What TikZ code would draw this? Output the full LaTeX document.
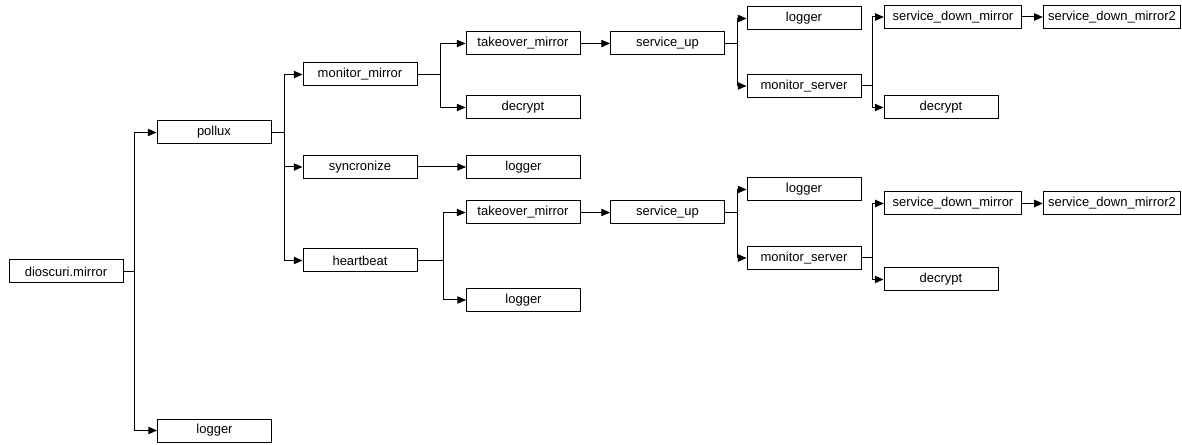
\documentclass[tikz,border=0pt]{standalone}
\usepackage{fontspec}
\setmainfont{Liberation Sans}
\usepackage{tikz}
\usetikzlibrary{arrows.meta}

\tikzset{
  box/.style={draw, line width=0.75pt, minimum width=85.5pt, minimum height=17.25pt, inner sep=0pt, font=\fontsize{9.75}{11}\selectfont},
  widebox/.style={box, minimum width=103pt},
  elbow/.style={to path={-- ++(#1,0) |- (\tikztotarget)}}
}

\begin{document}
\begin{tikzpicture}[x=0.75pt, y=-0.75pt, >={Triangle[length=6.5pt, width=5.5pt]}, line width=0.75pt]
  \useasboundingbox (0,0) rectangle (1182,445);
  \node[box] (dio) at (66,271.5) {dioscuri.mirror};
  \node[box] (pollux) at (214,132.5) {pollux};
  \node[box] (logA) at (214.5,430.5) {logger};
  \node[box] (monMirror) at (360,74.5) {monitor\_mirror};
  \node[box] (sync) at (360,167) {syncronize};
  \node[box] (heart) at (360,260.5) {heartbeat};
  \node[box] (takeA) at (523,43.5) {takeover\_mirror};
  \node[box] (decA) at (523,107.5) {decrypt};
  \node[box] (logB) at (523.5,167) {logger};
  \node[box] (takeB) at (523,212.5) {takeover\_mirror};
  \node[box] (logC) at (523.5,300) {logger};
  \node[box] (upA) at (667.5,43.5) {service\_up};
  \node[box] (upB) at (667.5,212.5) {service\_up};
  \node[box] (logD) at (804,18.5) {logger};
  \node[box] (monServA) at (804,86) {monitor\_server};
  \node[box] (logE) at (804,189.5) {logger};
  \node[box] (monServB) at (804,258) {monitor\_server};
  \node[widebox] (downA) at (953,17) {service\_down\_mirror};
  \node[box] (decB) at (941,107.5) {decrypt};
  \node[widebox] (downB) at (953,203.5) {service\_down\_mirror};
  \node[box] (decC) at (941,279.5) {decrypt};
  \node[widebox] (downTwoA) at (1112,17) {service\_down\_mirror2};
  \node[widebox] (downTwoB) at (1112,203.5) {service\_down\_mirror2};

  \draw[->] (dio.east) to[elbow=11] (pollux.west);
  \draw[->] (dio.east) to[elbow=11] (logA.west);
  \draw[->] (pollux.east) to[elbow=13] (monMirror.west);
  \draw[->] (pollux.east) to[elbow=13] (sync.west);
  \draw[->] (pollux.east) to[elbow=13] (heart.west);
  \draw[->] (monMirror.east) to[elbow=23] (takeA.west);
  \draw[->] (monMirror.east) to[elbow=23] (decA.west);
  \draw[->] (sync.east) -- (logB.west);
  \draw[->] (heart.east) to[elbow=26] (takeB.west);
  \draw[->] (heart.east) to[elbow=26] (logC.west);
  \draw[->] (takeA.east) -- (upA.west);
  \draw[->] (takeB.east) -- (upB.west);
  \draw[->] (upA.east) to[elbow=12] (logD.west);
  \draw[->] (upA.east) to[elbow=12] (monServA.west);
  \draw[->] (upB.east) to[elbow=12] (logE.west);
  \draw[->] (upB.east) to[elbow=12] (monServB.west);
  \draw[->] (monServA.east) to[elbow=11] (downA.west);
  \draw[->] (monServA.east) to[elbow=11] (decB.west);
  \draw[->] (monServB.east) to[elbow=11] (downB.west);
  \draw[->] (monServB.east) to[elbow=11] (decC.west);
  \draw[->] (downA.east) -- (downTwoA.west);
  \draw[->] (downB.east) -- (downTwoB.west);
\end{tikzpicture}
\end{document}
